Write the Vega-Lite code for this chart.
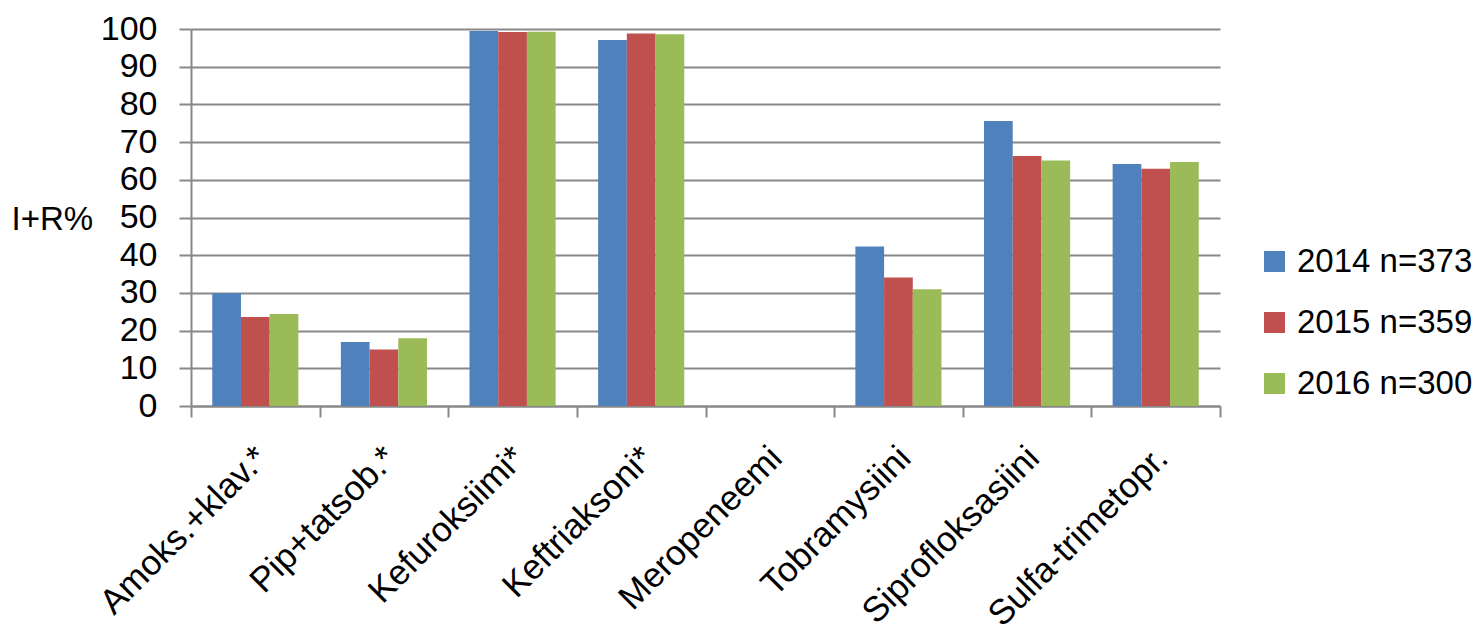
{
  "$schema": "https://vega.github.io/schema/vega-lite/v6.json",
  "autosize": "none",
  "padding": {"left": 191, "top": 29, "right": 257, "bottom": 218},
  "width": 1029,
  "height": 377,
  "background": "white",
  "config": {
    "view": {"stroke": null},
    "font": "Liberation Sans, Arial, sans-serif"
  },
  "data": {
    "values": [
      {"antibiootti": "Amoks.+klav.*", "vuosi": "2014 n=373", "arvo": 29.9},
      {"antibiootti": "Amoks.+klav.*", "vuosi": "2015 n=359", "arvo": 23.6},
      {"antibiootti": "Amoks.+klav.*", "vuosi": "2016 n=300", "arvo": 24.4},
      {"antibiootti": "Pip+tatsob.*", "vuosi": "2014 n=373", "arvo": 17.0},
      {"antibiootti": "Pip+tatsob.*", "vuosi": "2015 n=359", "arvo": 15.0},
      {"antibiootti": "Pip+tatsob.*", "vuosi": "2016 n=300", "arvo": 18.0},
      {"antibiootti": "Kefuroksiimi*", "vuosi": "2014 n=373", "arvo": 99.5},
      {"antibiootti": "Kefuroksiimi*", "vuosi": "2015 n=359", "arvo": 99.2},
      {"antibiootti": "Kefuroksiimi*", "vuosi": "2016 n=300", "arvo": 99.3},
      {"antibiootti": "Keftriaksoni*", "vuosi": "2014 n=373", "arvo": 97.1},
      {"antibiootti": "Keftriaksoni*", "vuosi": "2015 n=359", "arvo": 98.8},
      {"antibiootti": "Keftriaksoni*", "vuosi": "2016 n=300", "arvo": 98.6},
      {"antibiootti": "Meropeneemi", "vuosi": "2014 n=373", "arvo": 0},
      {"antibiootti": "Meropeneemi", "vuosi": "2015 n=359", "arvo": 0},
      {"antibiootti": "Meropeneemi", "vuosi": "2016 n=300", "arvo": 0},
      {"antibiootti": "Tobramysiini", "vuosi": "2014 n=373", "arvo": 42.3},
      {"antibiootti": "Tobramysiini", "vuosi": "2015 n=359", "arvo": 34.1},
      {"antibiootti": "Tobramysiini", "vuosi": "2016 n=300", "arvo": 31.0},
      {"antibiootti": "Siprofloksasiini", "vuosi": "2014 n=373", "arvo": 75.6},
      {"antibiootti": "Siprofloksasiini", "vuosi": "2015 n=359", "arvo": 66.3},
      {"antibiootti": "Siprofloksasiini", "vuosi": "2016 n=300", "arvo": 65.1},
      {"antibiootti": "Sulfa-trimetopr.", "vuosi": "2014 n=373", "arvo": 64.2},
      {"antibiootti": "Sulfa-trimetopr.", "vuosi": "2015 n=359", "arvo": 62.9},
      {"antibiootti": "Sulfa-trimetopr.", "vuosi": "2016 n=300", "arvo": 64.7}
    ]
  },
  "mark": {"type": "bar"},
  "encoding": {
    "x": {
      "field": "antibiootti",
      "type": "nominal",
      "sort": null,
      "scale": {"paddingInner": 0, "paddingOuter": 0},
      "axis": {
        "title": null,
        "labelAngle": -45,
        "labelFontSize": 35,
        "labelColor": "black",
        "labelPadding": 23,
        "labelOffset": -6,
        "labelOverlap": false,
        "labelBound": false,
        "labelLimit": 400,
        "tickBand": "extent",
        "tickSize": 11,
        "tickWidth": 2,
        "tickColor": "#888888",
        "domainColor": "#888888",
        "domainWidth": 2,
        "grid": false
      }
    },
    "xOffset": {"field": "vuosi", "type": "nominal", "scale": {"paddingInner": 0, "paddingOuter": 0.74}},
    "y": {
      "field": "arvo",
      "type": "quantitative",
      "scale": {"domain": [0, 100], "nice": false},
      "axis": {
        "values": [0, 10, 20, 30, 40, 50, 60, 70, 80, 90, 100],
        "labelOverlap": false,
        "title": "I+R%",
        "titleAngle": 0,
        "titleFontSize": 33,
        "titleFontWeight": "normal",
        "titleColor": "black",
        "titleAlign": "left",
        "titleBaseline": "middle",
        "titleX": -180,
        "titleY": 190,
        "labelFontSize": 34,
        "labelColor": "black",
        "labelPadding": 22,
        "tickSize": 12,
        "tickWidth": 2,
        "tickColor": "#888888",
        "domainColor": "#888888",
        "domainWidth": 2,
        "gridColor": "#888888",
        "gridWidth": 2
      }
    },
    "color": {
      "field": "vuosi",
      "type": "nominal",
      "scale": {"range": ["#4F81BD", "#C0504D", "#9BBB59"]},
      "legend": {
        "title": null,
        "orient": "none",
        "legendX": 1067,
        "legendY": 216,
        "symbolType": "square",
        "symbolSize": 441,
        "symbolStrokeWidth": 0,
        "labelFontSize": 33,
        "labelColor": "black",
        "labelOffset": 6,
        "labelLimit": 300,
        "rowPadding": 27
      }
    }
  }
}
